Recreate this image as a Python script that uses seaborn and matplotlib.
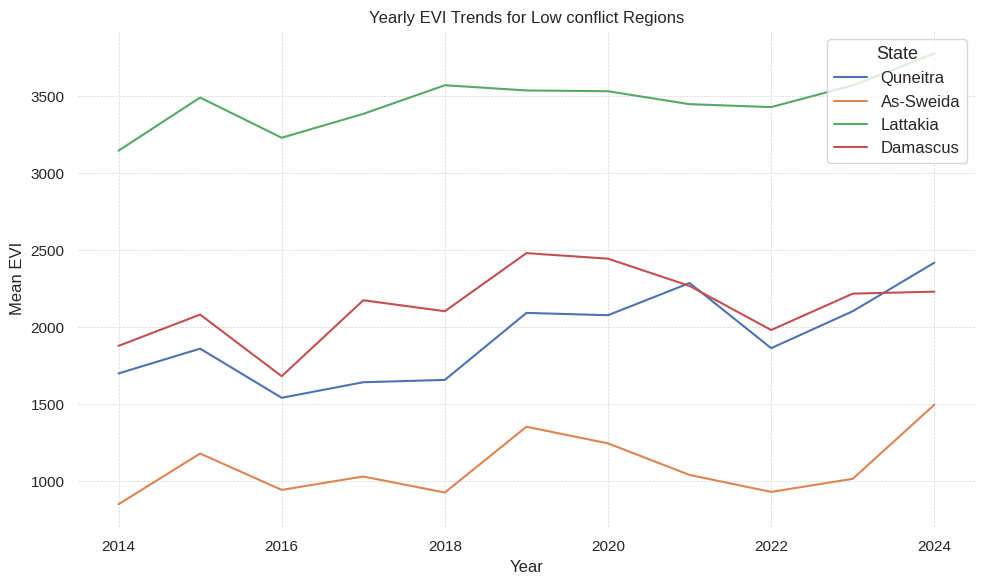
import matplotlib

matplotlib.use("Agg")
import matplotlib.pyplot as plt
import pandas as pd
import seaborn as sns

years = list(range(2014, 2025))
states = ["Quneitra", "As-Sweida", "Lattakia", "Damascus"]

quneitra = [1700, 1861, 1542, 1643, 1658, 2093, 2078, 2287, 1864, 2104, 2419]
as_sweida = [851, 1180, 944, 1031, 927, 1354, 1246, 1041, 931, 1016, 1497]
lattakia = [3146, 3491, 3230, 3385, 3571, 3537, 3532, 3448, 3429, 3570, 3777]
damascus = [1879, 2082, 1682, 2175, 2104, 2481, 2445, 2268, 1982, 2218, 2231]

series = [quneitra, as_sweida, lattakia, damascus]
df = pd.DataFrame({
    "Year": years * len(states),
    "Mean EVI": [v for s in series for v in s],
    "State": [st for st in states for _ in years],
})

sns.set_theme(style="whitegrid")
plt.rcParams["font.family"] = ["Liberation Sans", "DejaVu Sans"]

fig, ax = plt.subplots(figsize=(9.84, 5.84), dpi=100)
sns.lineplot(data=df, x="Year", y="Mean EVI", hue="State",
             hue_order=states, ax=ax)

ax.grid(True, linestyle="--", linewidth=0.5, color="#d5d5d5")
sns.despine(left=True, bottom=True)
ax.set_title("Yearly EVI Trends for Low conflict Regions", fontsize=12)
ax.set_xlabel("Year", fontsize=12)
ax.set_ylabel("Mean EVI", fontsize=12)
ax.tick_params(labelsize=11)
ax.legend(title="State", loc="upper right", fontsize=12, title_fontsize=13)

fig.subplots_adjust(left=0.079, right=0.991, top=0.947, bottom=0.098)
fig.savefig("out.png", dpi=100)
